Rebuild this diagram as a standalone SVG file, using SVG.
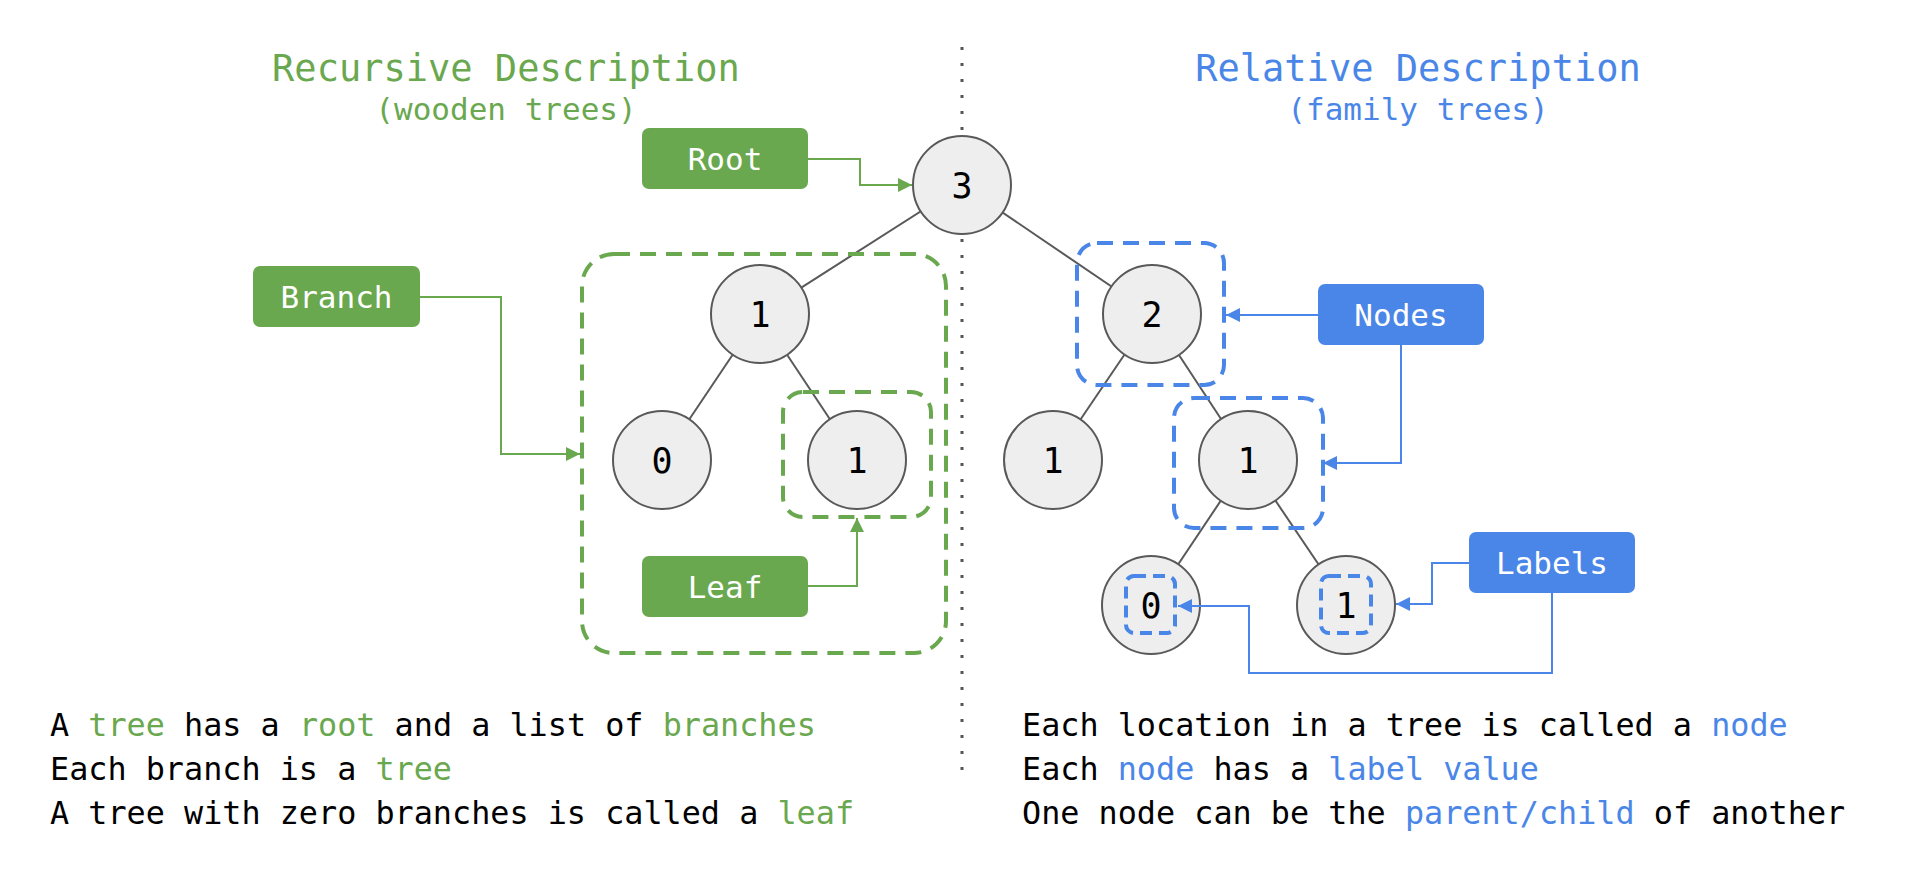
<svg xmlns="http://www.w3.org/2000/svg" width="1920" height="892" viewBox="0 0 1920 892">
<defs>
<marker id="ag" viewBox="0 0 10 10" refX="10" refY="5" markerUnits="userSpaceOnUse" markerWidth="19" markerHeight="14" orient="auto"><path d="M0,0 L10,5 L0,10 z" fill="#6aa84f"/></marker>
<marker id="ab" viewBox="0 0 10 10" refX="10" refY="5" markerUnits="userSpaceOnUse" markerWidth="19" markerHeight="14" orient="auto"><path d="M0,0 L10,5 L0,10 z" fill="#4a86e8"/></marker>
</defs>
<style>
text{font-family:"DejaVu Sans Mono","Liberation Mono",monospace;}
.node circle{fill:#eeeeee;stroke:#595959;stroke-width:2;}
.node text{font-size:35px;fill:#000;text-anchor:middle;}
.edge{stroke:#595959;stroke-width:2;fill:none;}
.gbox{fill:#6aa84f;}
.bbox{fill:#4a86e8;}
.lbl{font-size:31px;fill:#fff;text-anchor:middle;}
.gdash{fill:none;stroke:#6aa84f;stroke-width:4;stroke-dasharray:16 10;}
.bdash{fill:none;stroke:#4a86e8;stroke-width:4;stroke-dasharray:16 10;}
.bdash-s{fill:none;stroke:#4a86e8;stroke-width:4;stroke-dasharray:12 7;}
.gconn{fill:none;stroke:#6aa84f;stroke-width:2;marker-end:url(#ag);}
.bconn{fill:none;stroke:#4a86e8;stroke-width:2;marker-end:url(#ab);}
.body{font-size:31.8px;fill:#000;}
.g{fill:#6aa84f;}
.b{fill:#4a86e8;}
</style>
<rect width="1920" height="892" fill="#ffffff"/>

<g id="titles">
<text x="506" y="81" font-size="37" fill="#6aa84f" text-anchor="middle">Recursive Description</text>
<text x="506" y="120" font-size="31" fill="#6aa84f" text-anchor="middle">(wooden trees)</text>
<text x="1418" y="81" font-size="37" fill="#4a86e8" text-anchor="middle">Relative Description</text>
<text x="1418" y="120" font-size="31" fill="#4a86e8" text-anchor="middle">(family trees)</text>
</g>

<g id="divider">
<line x1="962" y1="47" x2="962" y2="772" stroke="#555555" stroke-width="3" stroke-dasharray="3 13"/>
</g>

<g id="tree-edges">
<line class="edge" x1="962" y1="185" x2="760" y2="314"/>
<line class="edge" x1="962" y1="185" x2="1152" y2="314"/>
<line class="edge" x1="760" y1="314" x2="662" y2="460"/>
<line class="edge" x1="760" y1="314" x2="857" y2="460"/>
<line class="edge" x1="1152" y1="314" x2="1053" y2="460"/>
<line class="edge" x1="1152" y1="314" x2="1248" y2="460"/>
<line class="edge" x1="1248" y1="460" x2="1151" y2="605"/>
<line class="edge" x1="1248" y1="460" x2="1346" y2="605"/>
</g>

<g id="node-root" class="node"><circle cx="962" cy="185" r="49"/><text x="962" y="198">3</text></g>
<g id="node-l1" class="node"><circle cx="760" cy="314" r="49"/><text x="760" y="327">1</text></g>
<g id="node-l0" class="node"><circle cx="662" cy="460" r="49"/><text x="662" y="473">0</text></g>
<g id="node-lleaf" class="node"><circle cx="857" cy="460" r="49"/><text x="857" y="473">1</text></g>
<g id="node-r2" class="node"><circle cx="1152" cy="314" r="49"/><text x="1152" y="327">2</text></g>
<g id="node-r1a" class="node"><circle cx="1053" cy="460" r="49"/><text x="1053" y="473">1</text></g>
<g id="node-r1b" class="node"><circle cx="1248" cy="460" r="49"/><text x="1248" y="473">1</text></g>
<g id="node-r0" class="node"><circle cx="1151" cy="605" r="49"/><text x="1151" y="618">0</text></g>
<g id="node-r1c" class="node"><circle cx="1346" cy="605" r="49"/><text x="1346" y="618">1</text></g>

<g id="highlight-branch"><rect class="gdash" x="582" y="254" width="364" height="399" rx="32"/></g>
<g id="highlight-leaf"><rect class="gdash" x="783" y="392" width="148" height="125" rx="20"/></g>
<g id="highlight-node2"><rect class="bdash" x="1077" y="243" width="147" height="142" rx="20"/></g>
<g id="highlight-node1"><rect class="bdash" x="1174" y="398" width="149" height="130" rx="20"/></g>
<g id="highlight-label0"><rect class="bdash-s" x="1126" y="576" width="49" height="57" rx="8"/></g>
<g id="highlight-label1"><rect class="bdash-s" x="1321" y="576" width="50" height="57" rx="8"/></g>

<g id="box-root"><rect class="gbox" x="642" y="128" width="166" height="61" rx="7"/><text class="lbl" x="725" y="170">Root</text></g>
<g id="box-branch"><rect class="gbox" x="253" y="266" width="167" height="61" rx="7"/><text class="lbl" x="336.5" y="308">Branch</text></g>
<g id="box-leaf"><rect class="gbox" x="642" y="556" width="166" height="61" rx="7"/><text class="lbl" x="725" y="598">Leaf</text></g>
<g id="box-nodes"><rect class="bbox" x="1318" y="284" width="166" height="61" rx="7"/><text class="lbl" x="1401" y="326">Nodes</text></g>
<g id="box-labels"><rect class="bbox" x="1469" y="532" width="166" height="61" rx="7"/><text class="lbl" x="1552" y="574">Labels</text></g>

<g id="connectors">
<path class="gconn" d="M808,159 H860 V185 H912"/>
<path class="gconn" d="M420,297 H501 V454 H580"/>
<path class="gconn" d="M808,586 H857 V518"/>
<path class="bconn" d="M1318,315 H1226"/>
<path class="bconn" d="M1401,345 V463 H1323"/>
<path class="bconn" d="M1469,563 H1432 V604 H1396"/>
<path class="bconn" d="M1552,593 V673 H1249 V606 H1178"/>
</g>

<g id="text-left">
<text x="50" y="736" class="body">A <tspan class="g">tree</tspan> has a <tspan class="g">root</tspan> and a list of <tspan class="g">branches</tspan></text>
<text x="50" y="780" class="body">Each branch is a <tspan class="g">tree</tspan></text>
<text x="50" y="824" class="body">A tree with zero branches is called a <tspan class="g">leaf</tspan></text>
</g>
<g id="text-right">
<text x="1022" y="736" class="body">Each location in a tree is called a <tspan class="b">node</tspan></text>
<text x="1022" y="780" class="body">Each <tspan class="b">node</tspan> has a <tspan class="b">label value</tspan></text>
<text x="1022" y="824" class="body">One node can be the <tspan class="b">parent/child</tspan> of another</text>
</g>
</svg>
